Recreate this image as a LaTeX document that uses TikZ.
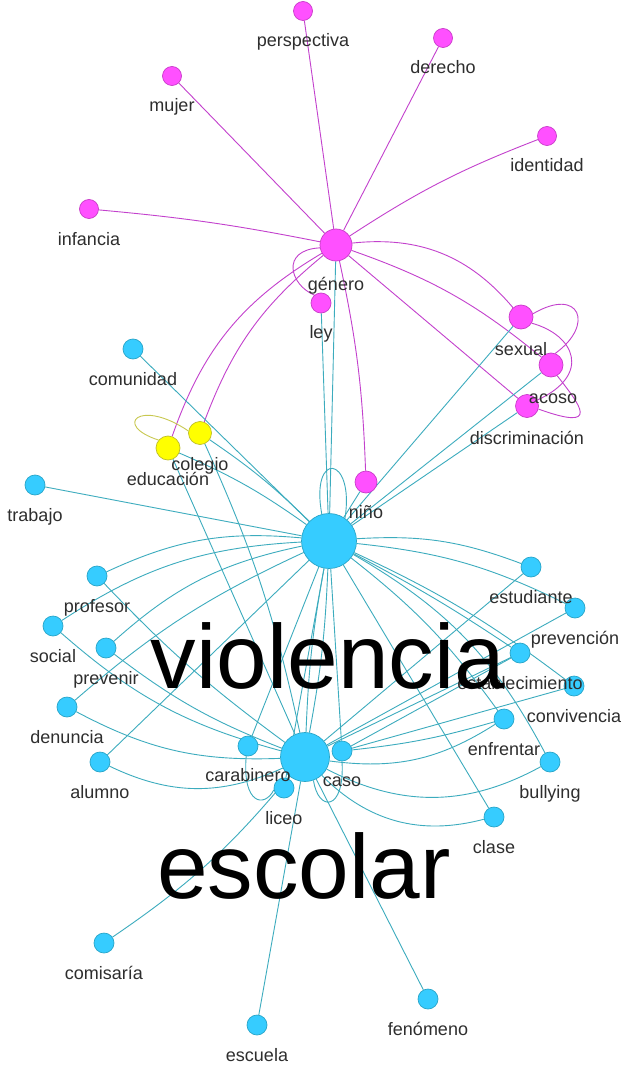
\documentclass[tikz,border=0pt]{standalone}
\usepackage{fontspec}
\setmainfont{Liberation Sans}
\definecolor{pinkf}{RGB}{255,80,255}
\definecolor{pinkd}{RGB}{200,60,200}
\definecolor{bluef}{RGB}{54,204,255}
\definecolor{blued}{RGB}{40,165,200}
\definecolor{yelf}{RGB}{255,255,0}
\definecolor{yeld}{RGB}{190,190,40}
\definecolor{tealE}{RGB}{60,172,190}
\definecolor{pinkE}{RGB}{195,65,205}
\definecolor{yelE}{RGB}{200,200,80}
\pgfdeclarelayer{back}
\pgfdeclarelayer{bg}
\pgfsetlayers{back,bg,main}
\tikzset{
 nd/.style={circle,draw,inner sep=0pt,line width=0.7pt},
 pk/.style={nd,fill=pinkf,draw=pinkd},
 bl/.style={nd,fill=bluef,draw=blued},
 yl/.style={nd,fill=yelf,draw=yeld},
 lab/.style={anchor=base,text=black!82,font=\fontsize{18}{18}\selectfont,inner sep=0pt},
 big/.style={anchor=base,text=black,font=\fontsize{91}{91}\selectfont,inner sep=0pt},
 te/.style={draw=tealE,line width=0.9pt},
 pe/.style={draw=pinkE,line width=0.9pt},
 ye/.style={draw=yelE,line width=0.9pt},
}
\begin{document}
\begin{tikzpicture}[x=1pt,y=-1pt]
\begin{pgfonlayer}{back}
\fill[white] (0,0) rectangle (634,1067);
\end{pgfonlayer}
\useasboundingbox (0,0) rectangle (634,1067);
% pink nodes
\node[pk,minimum size=32pt] (g) at (336,245) {};
\node[pk,minimum size=19pt] (persp) at (303,11) {};
\node[pk,minimum size=19pt] (derecho) at (443,38) {};
\node[pk,minimum size=19pt] (mujer) at (172,76) {};
\node[pk,minimum size=19pt] (identidad) at (547,136) {};
\node[pk,minimum size=19pt] (infancia) at (89,209) {};
\node[pk,minimum size=20pt] (ley) at (321,303) {};
\node[pk,minimum size=24pt] (sexual) at (521,317) {};
\node[pk,minimum size=24pt] (acoso) at (551,365) {};
\node[pk,minimum size=23pt] (disc) at (527,406) {};
\node[pk,minimum size=22pt] (nino) at (366,482) {};
% yellow nodes
\node[yl,minimum size=23pt] (colegio) at (200,433) {};
\node[yl,minimum size=24pt] (edu) at (168,448) {};
% blue nodes
\node[bl,minimum size=20pt] (comunidad) at (133,349) {};
\node[bl,minimum size=20pt] (trabajo) at (35,485) {};
\node[bl,minimum size=55pt] (v) at (329,541) {};
\node[bl,minimum size=49pt] (e) at (305,757) {};
\node[bl,minimum size=20pt] (carabinero) at (248,746) {};
\node[bl,minimum size=20pt] (caso) at (342,751) {};
\node[bl,minimum size=20pt] (liceo) at (284,788) {};
\node[bl,minimum size=20pt] (profesor) at (97,576) {};
\node[bl,minimum size=20pt] (social) at (53,626) {};
\node[bl,minimum size=20pt] (prevenir) at (106,648) {};
\node[bl,minimum size=20pt] (denuncia) at (67,707) {};
\node[bl,minimum size=20pt] (alumno) at (100,762) {};
\node[bl,minimum size=20pt] (estudiante) at (531,567) {};
\node[bl,minimum size=20pt] (prevencion) at (575,608) {};
\node[bl,minimum size=20pt] (establecimiento) at (520,653) {};
\node[bl,minimum size=20pt] (convivencia) at (574,686) {};
\node[bl,minimum size=20pt] (enfrentar) at (504,719) {};
\node[bl,minimum size=20pt] (bullying) at (550,762) {};
\node[bl,minimum size=20pt] (clase) at (494,817) {};
\node[bl,minimum size=20pt] (comisaria) at (104,943) {};
\node[bl,minimum size=20pt] (escuela) at (257,1025) {};
\node[bl,minimum size=20pt] (fenomeno) at (428,999) {};

\begin{pgfonlayer}{bg}
% pink edges
\draw[pe] (g) -- (persp);
\draw[pe] (g) -- (derecho);
\draw[pe] (g) -- (mujer);
\draw[pe] (g) to[bend left=6] (identidad);
\draw[pe] (g) to[bend right=3] (infancia);
\draw[pe] (g.190) .. controls (280,250) and (290,285) .. (ley.130);
\draw[pe] (g) to[bend left=5] (nino);
\draw[pe] (g) -- (disc);
\draw[pe] (g) to[bend left=10] (acoso);
\draw[pe] (g) to[bend left=28] (sexual);
\draw[pe] (g) to[bend right=20] (edu);
\draw[pe] (g) to[bend right=15] (colegio);
\draw[pe] (sexual.15) .. controls (580,286) and (595,325) .. (acoso.70);
\draw[pe] (sexual.-30) .. controls (575,335) and (592,375) .. (disc.30);
\draw[pe] (acoso.-60) .. controls (580,405) and (602,432) .. (disc.-15);
% yellow loop
\draw[ye] (edu.140) .. controls (112,425) and (140,398) .. (colegio.170);
% teal edges from violencia
\draw[te] (v) -- (g);
\draw[te] (v) -- (ley);
\draw[te] (v) -- (nino);
\draw[te] (v.105) .. controls (310,450) and (355,455) .. (v.55);
\draw[te] (v) -- (sexual);
\draw[te] (v) -- (acoso);
\draw[te] (v) -- (disc);
\draw[te] (v) -- (comunidad);
\draw[te] (v) -- (trabajo);
\draw[te] (v) to[bend right=5] (colegio);
\draw[te] (v) to[bend right=6] (edu);
\draw[te] (v) to[bend right=15] (profesor);
\draw[te] (v) to[bend right=15] (social);
\draw[te] (v) to[bend right=15] (prevenir);
\draw[te] (v) to[bend right=8] (denuncia);
\draw[te] (v) -- (alumno);
\draw[te] (v) to[bend left=12] (estudiante);
\draw[te] (v) to[bend left=10] (prevencion);
\draw[te] (v) to[bend left=3] (establecimiento);
\draw[te] (v) to[bend left=6] (convivencia);
\draw[te] (v) to[bend left=8] (enfrentar);
\draw[te] (v) to[bend left=16] (bullying);
\draw[te] (v) -- (clase);
\draw[te] (v) to[bend left=4] (e);
\draw[te] (v) to[bend right=4] (e);
\draw[te] (v) -- (carabinero);
\draw[te] (v) -- (liceo);
\draw[te] (v) -- (caso);
% teal edges to escolar
\draw[te] (edu) -- (e);
\draw[te] (colegio) to[bend left=6] (e);
\draw[te] (profesor) to[bend right=5] (e);
\draw[te] (social) to[bend right=13] (e);
\draw[te] (prevenir) to[bend right=8] (e);
\draw[te] (denuncia) to[bend right=15] (e);
\draw[te] (alumno) to[bend right=25] (e);
\draw[te] (estudiante) -- (e);
\draw[te] (prevencion) -- (e);
\draw[te] (establecimiento) -- (e);
\draw[te] (convivencia) -- (caso);
\draw[te] (e) to[bend right=20] (enfrentar);
\draw[te] (e) to[bend right=28] (bullying);
\draw[te] (e) to[bend right=30] (clase);
\draw[te] (caso) -- (establecimiento);
\draw[te] (caso) to[bend right=5] (enfrentar);
\draw[te] (comisaria) to[bend right=8] (e);
\draw[te] (e) -- (escuela);
\draw[te] (e) -- (fenomeno);
\draw[te] (carabinero.-100) .. controls (242,805) and (265,808) .. (liceo.190);
\draw[te] (e.-70) .. controls (318,812) and (345,812) .. (caso.-90);
\end{pgfonlayer}

% labels
\node[lab] (l-persp) at (303,47) {perspectiva};
\node[lab] (l-derecho) at (443,74) {derecho};
\node[lab] (l-mujer) at (172,112) {mujer};
\node[lab] (l-identidad) at (547,172) {identidad};
\node[lab] (l-infancia) at (89,245) {infancia};
\node[lab] (l-g) at (336,290) {género};
\node[lab] (l-ley) at (321,338) {ley};
\node[lab] (l-sexual) at (521,355) {sexual};
\node[lab] (l-acoso) at (553,403) {acoso};
\node[lab] (l-disc) at (527,444) {discriminación};
\node[lab] (l-nino) at (366,518) {niño};
\node[lab] (l-colegio) at (200,470) {colegio};
\node[lab] (l-edu) at (168,485) {educación};
\node[lab] (l-comunidad) at (133,385) {comunidad};
\node[lab] (l-trabajo) at (35,521) {trabajo};
\node[lab] (l-carabinero) at (248,781) {carabinero};
\node[lab] (l-caso) at (342,786) {caso};
\node[lab] (l-liceo) at (284,824) {liceo};
\node[lab] (l-profesor) at (97,612) {profesor};
\node[lab] (l-social) at (53,662) {social};
\node[lab] (l-prevenir) at (106,684) {prevenir};
\node[lab] (l-denuncia) at (67,743) {denuncia};
\node[lab] (l-alumno) at (100,798) {alumno};
\node[lab] (l-estudiante) at (531,603) {estudiante};
\node[lab] (l-prevencion) at (575,644) {prevención};
\node[lab] (l-establecimiento) at (520,689) {establecimiento};
\node[lab] (l-convivencia) at (574,722) {convivencia};
\node[lab] (l-enfrentar) at (504,755) {enfrentar};
\node[lab] (l-bullying) at (550,798) {bullying};
\node[lab] (l-clase) at (494,853) {clase};
\node[lab] (l-comisaria) at (104,979) {comisaría};
\node[lab] (l-escuela) at (257,1061) {escuela};
\node[lab] (l-fenomeno) at (428,1035) {fenómeno};
\node[big] (l-v) at (328,688) {violencia};
\node[big] (l-e) at (304,898) {escolar};
\end{tikzpicture}
\end{document}
